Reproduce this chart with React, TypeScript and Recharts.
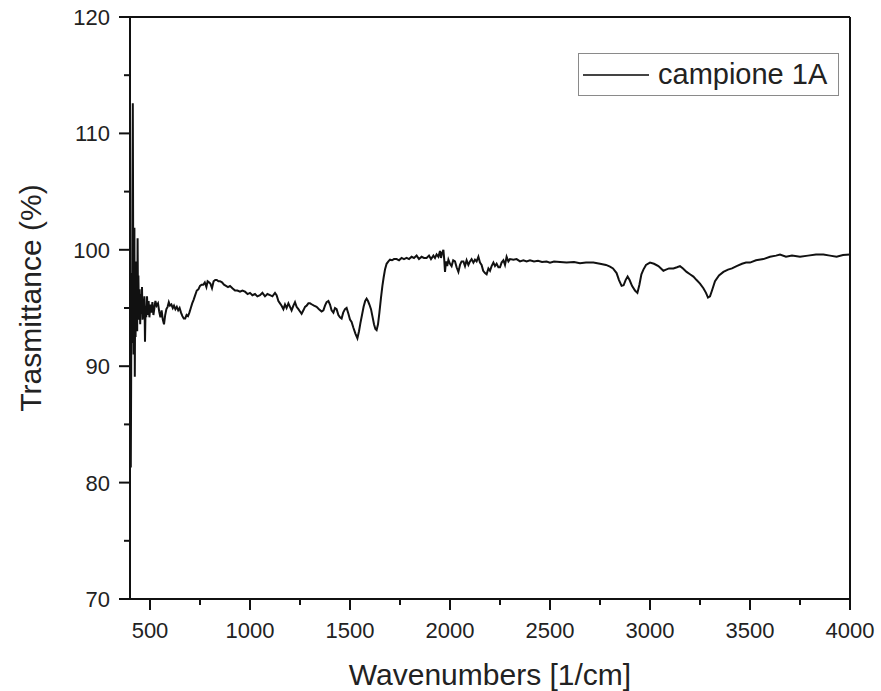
import React from 'react';
import { LineChart, Line, XAxis, YAxis, ReferenceLine, Legend } from 'recharts';

// Spectrum
const wavenumbers = [
  400, 402, 404, 406, 408, 410, 412, 414, 416, 418, 420, 422, 424, 426, 428, 430, 432, 434, 436, 438,
  440, 442, 445, 448, 451, 454, 457, 460, 463, 466, 469, 472, 475, 478, 481, 485, 489, 493, 497, 502,
  507, 512, 517, 522, 527, 533, 540, 546, 552, 558, 564, 570, 576, 582, 588, 594, 600, 607, 614, 620,
  627, 634, 641, 648, 655, 662, 669, 676, 683, 690, 697, 704, 711, 718, 726, 734, 742, 750, 758, 766,
  774, 782, 788, 795, 802, 810, 818, 826, 834, 842, 850, 860, 870, 880, 890, 900, 912, 925, 937, 950,
  962, 975, 988, 1000, 1012, 1025, 1037, 1050, 1062, 1075, 1087, 1100, 1112, 1125, 1133, 1142, 1150, 1158, 1167, 1175,
  1183, 1192, 1200, 1208, 1217, 1225, 1233, 1242, 1250, 1258, 1267, 1275, 1283, 1292, 1300, 1310, 1320, 1333, 1345, 1358,
  1367, 1375, 1383, 1392, 1400, 1408, 1417, 1425, 1433, 1442, 1450, 1458, 1466, 1475, 1483, 1492, 1500, 1508, 1517, 1527,
  1537, 1545, 1552, 1560, 1568, 1576, 1583, 1590, 1597, 1605, 1612, 1620, 1627, 1633, 1640, 1647, 1655, 1662, 1668, 1675,
  1683, 1692, 1700, 1710, 1720, 1733, 1745, 1758, 1770, 1783, 1795, 1808, 1820, 1833, 1845, 1858, 1870, 1883, 1895, 1905,
  1917, 1925, 1933, 1942, 1950, 1955, 1960, 1967, 1971, 1975, 1980, 1986, 1992, 2000, 2008, 2016, 2025, 2033, 2042, 2050,
  2058, 2067, 2075, 2083, 2092, 2100, 2108, 2117, 2125, 2133, 2142, 2150, 2158, 2166, 2175, 2183, 2192, 2200, 2208, 2217,
  2225, 2233, 2242, 2250, 2258, 2267, 2275, 2283, 2292, 2300, 2317, 2333, 2350, 2367, 2383, 2400, 2420, 2440, 2460, 2483,
  2500, 2520, 2550, 2583, 2620, 2650, 2680, 2717, 2750, 2780, 2800, 2815, 2833, 2845, 2858, 2868, 2878, 2888, 2898, 2910,
  2925, 2937, 2947, 2957, 2967, 2980, 3000, 3020, 3042, 3055, 3067, 3080, 3095, 3117, 3135, 3150, 3165, 3183, 3200, 3217,
  3233, 3250, 3267, 3280, 3290, 3300, 3310, 3325, 3345, 3367, 3390, 3410, 3433, 3460, 3480, 3500, 3530, 3567, 3600, 3630,
  3650, 3680, 3710, 3750, 3790, 3830, 3867, 3900, 3933, 3965, 4000,
];

const transmittance = [
  94, 86, 81.3, 90, 98, 92, 104, 112.6, 100, 91, 96, 101.9, 89.1, 97, 92.5, 99, 94, 97.5, 93, 101,
  95, 97.8, 94, 96.6, 93.6, 96.2, 94.5, 96.8, 94, 95.8, 94.6, 96, 92.1, 95.2, 94.2, 96, 94.4, 95.6, 94.2, 95.3,
  94.6, 95.5, 94.4, 95.0, 95.6, 95.2, 95.4, 94.7, 94.2, 94.8, 94.0, 93.6, 94.4, 94.9, 95.1, 95.5, 95.2, 95.3, 95.0, 95.2,
  94.9, 95.1, 94.8, 95.0, 94.6, 94.3, 94.1, 94.1, 94.4, 94.3, 94.6, 95.0, 95.4, 95.7, 96.1, 96.5, 96.6, 96.9, 97.0, 97.0,
  97.2, 96.8, 97.3, 97.2, 97.1, 96.7, 97.3, 97.4, 97.4, 97.3, 97.3, 97.2, 97.0, 96.9, 96.8, 96.9, 96.7, 96.5, 96.5, 96.4,
  96.5, 96.4, 96.2, 96.3, 96.1, 96.2, 96.0, 96.1, 96.3, 96.0, 96.2, 96.1, 96.0, 96.3, 96.1, 95.6, 95.4, 95.2, 94.9, 95.3,
  95.0, 95.4, 95.1, 94.8, 95.2, 95.5, 95.1, 94.9, 94.7, 94.5, 94.8, 95.1, 95.2, 95.4, 95.4, 95.3, 95.2, 95.1, 94.9, 94.7,
  94.8, 95.2, 95.5, 95.6, 95.3, 94.8, 94.6, 95.0, 94.9, 94.4, 94.2, 94.1, 94.6, 94.9, 95.0, 94.5, 94.0, 93.8, 93.3, 92.8,
  92.4, 93.0, 93.7, 94.4, 95.1, 95.6, 95.8, 95.6, 95.3, 94.9, 94.3, 93.6, 93.2, 93.1, 93.6, 94.6, 95.9, 96.9, 97.6, 98.3,
  98.8, 99.0, 99.15, 99.1, 99.2, 99.2, 99.1, 99.3, 99.2, 99.3, 99.2, 99.4, 99.3, 99.5, 99.2, 99.4, 99.3, 99.3, 99.5, 99.2,
  99.5, 99.3, 99.6, 99.4, 99.9, 99.3, 99.7, 100.0, 99.2, 98.1, 99.0, 98.6, 99.15, 98.8, 98.6, 99.1, 99.0, 98.5, 98.1, 98.7,
  99.0, 99.0, 98.6, 99.1, 98.7, 99.0, 99.2, 98.9, 99.15, 99.0, 99.4, 98.9, 98.7, 98.2, 98.0, 97.9, 98.4, 98.2, 98.6, 98.9,
  98.6, 98.8, 98.5, 98.5, 98.9, 99.1, 98.7, 99.4, 99.0, 99.2, 99.15, 99.2, 99.0, 99.1, 99.0, 99.1, 99.0, 99.05, 98.95, 99.0,
  98.9, 99.0, 98.95, 98.9, 98.95, 98.85, 98.9, 98.9, 98.8, 98.7, 98.55, 98.4, 98.0, 97.4, 96.9, 96.95, 97.4, 97.7, 97.4, 96.9,
  96.5, 96.3, 97.0, 97.9, 98.3, 98.7, 98.9, 98.8, 98.6, 98.4, 98.2, 98.3, 98.4, 98.4, 98.5, 98.6, 98.4, 98.1, 97.9, 97.7,
  97.4, 97.1, 96.7, 96.3, 95.9, 96.0, 96.5, 97.3, 97.8, 98.1, 98.3, 98.4, 98.6, 98.8, 98.9, 98.9, 99.1, 99.2, 99.4, 99.5,
  99.6, 99.4, 99.5, 99.4, 99.5, 99.6, 99.6, 99.5, 99.4, 99.55, 99.6,
];

const xTicks = [500, 750, 1000, 1250, 1500, 1750, 2000, 2250, 2500, 2750, 3000, 3250, 3500, 3750, 4000];
const yTicks = [70, 75, 80, 85, 90, 95, 100, 105, 110, 115, 120];

const seriesName = 'campione 1A';

const data = wavenumbers.map((wn, i) => ({ wn, t: transmittance[i] }));

const FONT = '"Liberation Sans", Arial, sans-serif';

const XTick = (props: any) => {
  const { x, y, payload } = props;
  const major = payload.value % 500 === 0;
  return (
    <g>
      <line x1={x} x2={x} y1={y} y2={y + (major ? 11 : 6)} stroke="#111" strokeWidth={2} />
      {major && (
        <text x={x} y={y + 39} textAnchor="middle" fontSize={22} fill="#222" fontFamily={FONT}>
          {payload.value}
        </text>
      )}
    </g>
  );
};

const YTick = (props: any) => {
  const { x, y, payload } = props;
  const major = payload.value % 10 === 0;
  return (
    <g>
      <line x1={x - (major ? 11 : 6)} x2={x} y1={y} y2={y} stroke="#111" strokeWidth={2} />
      {major && (
        <text x={x - 20} y={y + 8} textAnchor="end" fontSize={22} fill="#222" fontFamily={FONT}>
          {payload.value}
        </text>
      )}
    </g>
  );
};

const YLabel = (props: any) => {
  const { viewBox } = props;
  const cx = viewBox.x - 19;
  const cy = viewBox.y + viewBox.height / 2 - 10;
  return (
    <text
      x={cx}
      y={cy}
      transform={`rotate(-90 ${cx} ${cy})`}
      textAnchor="middle"
      fontSize={30}
      fill="#222"
      fontFamily={FONT}
    >
      Trasmittance (%)
    </text>
  );
};

const renderLegend = () => (
  <div
    style={{
      boxSizing: 'border-box',
      width: 261,
      height: 43,
      border: '1.5px solid #8a8a8a',
      display: 'flex',
      alignItems: 'center',
      fontFamily: FONT,
      fontSize: 29,
      color: '#222',
    }}
  >
    <div style={{ width: 66, height: 2, background: '#444', marginLeft: 4, marginRight: 9 }} />
    <span>{seriesName}</span>
  </div>
);

export default function App() {
  return (
    <div style={{ position: 'absolute', left: 0, top: 0, width: 881, height: 691, background: '#fff' }}>
      <LineChart width={881} height={691} data={data} margin={{ top: 17, right: 31, left: 60, bottom: 42 }}>
        <XAxis
          dataKey="wn"
          type="number"
          domain={[400, 4000]}
          ticks={xTicks}
          interval={0}
          allowDataOverflow
          height={50}
          tickSize={0}
          tickMargin={0}
          tickLine={false}
          tick={<XTick />}
          axisLine={{ stroke: '#111', strokeWidth: 2 }}
          label={{
            value: 'Wavenumbers [1/cm]',
            position: 'bottom',
            offset: 15,
            fontSize: 30,
            fill: '#222',
            fontFamily: FONT,
          }}
        />
        <YAxis
          type="number"
          domain={[70, 120]}
          ticks={yTicks}
          interval={0}
          allowDataOverflow
          width={70}
          tickSize={0}
          tickMargin={0}
          tickLine={false}
          tick={<YTick />}
          axisLine={{ stroke: '#111', strokeWidth: 2 }}
          label={<YLabel />}
        />
        <ReferenceLine y={120} stroke="#111" strokeWidth={2} />
        <ReferenceLine x={4000} stroke="#111" strokeWidth={2} />
        <Legend
          layout="horizontal"
          verticalAlign="middle"
          align="center"
          content={renderLegend}
          wrapperStyle={{ left: 578, top: 53, width: 261, height: 43 }}
        />
        <Line
          type="linear"
          dataKey="t"
          name={seriesName}
          stroke="#111"
          strokeWidth={2}
          dot={false}
          isAnimationActive={false}
        />
      </LineChart>
    </div>
  );
}
